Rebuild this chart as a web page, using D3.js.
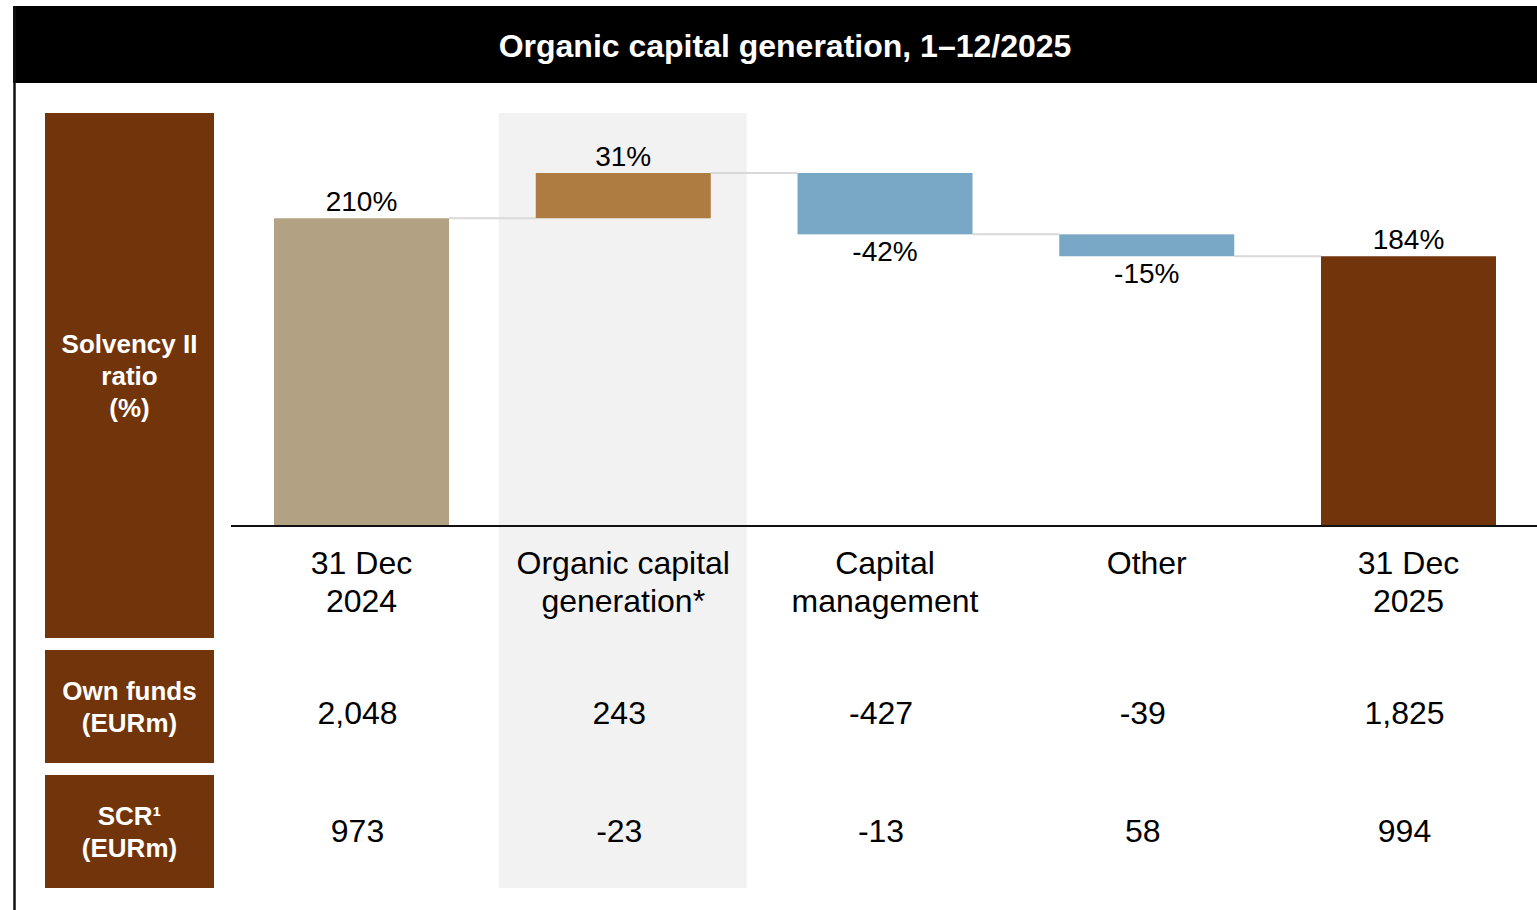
<!DOCTYPE html>
<html>
<head>
<meta charset="utf-8">
<script src="https://cdn.jsdelivr.net/npm/d3@7"></script>
<style>
    html, body { margin: 0; padding: 0; background: #fff; }
    svg { display: block; font-family: "Liberation Sans", Arial, sans-serif; }
</style>
</head>
<body>
<div id="chart"></div>
<script>
// chart data
const categories = ["31 Dec 2024", "Organic capital generation*", "Capital management", "Other", "31 Dec 2025"];
const categoryLines = [["31 Dec", "2024"], ["Organic capital", "generation*"], ["Capital", "management"], ["Other"], ["31 Dec", "2025"]];
const ratioValues = [210, 31, -42, -15, 184];
const barTypes = ["start", "up", "down", "down", "total"];
const ownFunds = ["2,048", "243", "-427", "-39", "1,825"];
const scrValues = ["973", "-23", "-13", "58", "994"];
const title = "Organic capital generation, 1\u201312/2025";

const width = 1537, height = 910;
const baseY = 525;

const colors = { start: "#b2a283", up: "#ae7c41", down: "#79a8c7", total: "#72340b" };

const svg = d3.select("#chart").append("svg")
    .attr("width", width)
    .attr("height", height)
    .attr("viewBox", [0, 0, width, height]);

// compute waterfall steps
let running = 0;
const bars = categories.map((c, i) => {
    const v = ratioValues[i];
    let y0, y1;
    if (barTypes[i] === "start" || barTypes[i] === "total") {
        y0 = 0; y1 = v; running = v;
    } else {
        y0 = running; y1 = running + v; running = y1;
    }
    return { cat: c, value: v, type: barTypes[i], lo: Math.min(y0, y1), hi: Math.max(y0, y1), end: y1 };
});

const x = d3.scalePoint().domain(categories).range([361.5, 1408.5]);
const barW = 175;
const y = d3.scaleLinear().domain([0, d3.max(bars, d => d.hi)]).range([baseY, 173]);

// frame + title bar
svg.append("rect").attr("x", 13).attr("y", 6).attr("width", width - 13).attr("height", 77).attr("fill", "#000");
svg.append("line").attr("x1", 14.5).attr("x2", 14.5).attr("y1", 6).attr("y2", height)
    .attr("stroke", "#111").attr("stroke-width", 2.5);
svg.append("text")
    .attr("x", 785).attr("y", 57)
    .attr("text-anchor", "middle")
    .attr("fill", "#fff")
    .attr("font-size", 32).attr("font-weight", "bold")
    .text(title);

// shaded column for organic capital generation
svg.append("rect")
    .attr("x", x(categories[1]) - 124.5).attr("y", 113)
    .attr("width", 248).attr("height", 775)
    .attr("fill", "#f2f2f2");

// left row headers
const headers = [
    { lines: ["Solvency II", "ratio", "(%)"], y0: 113, y1: 638 },
    { lines: ["Own funds", "(EURm)"], y0: 650, y1: 763 },
    { lines: ["SCR\u00b9", "(EURm)"], y0: 775, y1: 888 }
];
const hg = svg.append("g");
headers.forEach(h => {
    hg.append("rect").attr("x", 45).attr("y", h.y0).attr("width", 169).attr("height", h.y1 - h.y0).attr("fill", "#72340b");
    const mid = (h.y0 + h.y1) / 2;
    const n = h.lines.length;
    h.lines.forEach((l, j) => {
        hg.append("text")
            .attr("x", 129.5)
            .attr("y", mid + (j - (n - 1) / 2) * 32 + 9)
            .attr("text-anchor", "middle")
            .attr("fill", "#fff")
            .attr("font-size", 26).attr("font-weight", "bold")
            .text(l);
    });
});

// connectors
svg.append("g").selectAll("line")
    .data(bars.slice(0, -1))
    .join("line")
    .attr("x1", d => x(d.cat) + barW / 2)
    .attr("x2", (d, i) => x(categories[i + 1]) - barW / 2)
    .attr("y1", d => y(d.end))
    .attr("y2", d => y(d.end))
    .attr("stroke", "#d9d9d9")
    .attr("stroke-width", 2);

// bars
svg.append("g").selectAll("rect")
    .data(bars)
    .join("rect")
    .attr("x", d => x(d.cat) - barW / 2)
    .attr("y", d => y(d.hi))
    .attr("width", barW)
    .attr("height", d => y(d.lo) - y(d.hi))
    .attr("fill", d => colors[d.type]);

// value labels
svg.append("g").selectAll("text")
    .data(bars)
    .join("text")
    .attr("x", d => x(d.cat))
    .attr("y", d => d.value < 0 ? y(d.lo) + 27 : y(d.hi) - 7)
    .attr("text-anchor", "middle")
    .attr("font-size", 28)
    .attr("fill", "#000")
    .text(d => d.value + "%");

// baseline
svg.append("line").attr("x1", 231).attr("x2", width).attr("y1", baseY + 1).attr("y2", baseY + 1)
    .attr("stroke", "#111").attr("stroke-width", 2);

// category labels
const cg = svg.append("g");
categories.forEach((c, i) => {
    categoryLines[i].forEach((l, j) => {
        cg.append("text")
            .attr("x", x(c))
            .attr("y", 574 + j * 38)
            .attr("text-anchor", "middle")
            .attr("font-size", 32)
            .attr("fill", "#000")
            .text(l);
    });
});

// table rows
const rows = [{ vals: ownFunds, y: 724 }, { vals: scrValues, y: 842 }];
rows.forEach(r => {
    svg.append("g").selectAll("text")
        .data(r.vals)
        .join("text")
        .attr("x", (d, i) => x(categories[i]) - 4)
        .attr("y", r.y)
        .attr("text-anchor", "middle")
        .attr("font-size", 32)
        .attr("fill", "#000")
        .text(d => d);
});
</script>
</body>
</html>
